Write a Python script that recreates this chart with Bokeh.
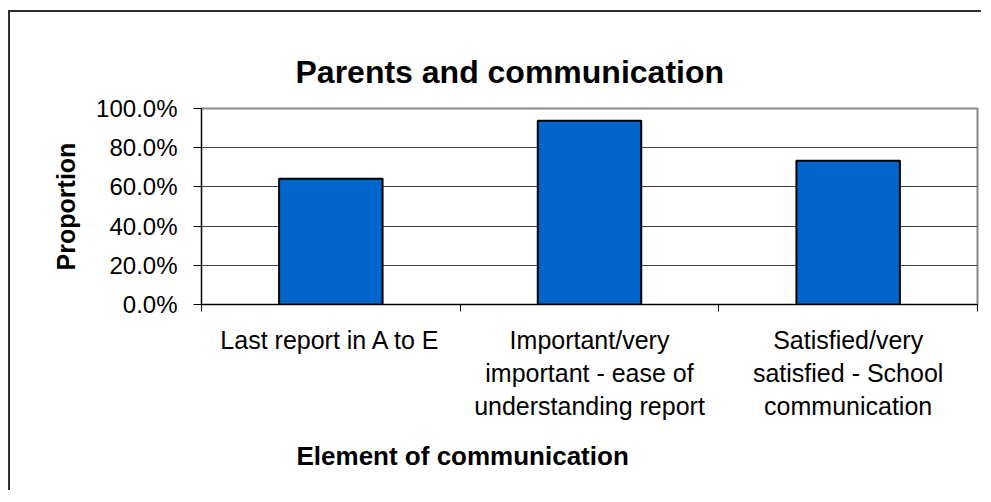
from bokeh.plotting import figure
from bokeh.models import (FactorRange, Range1d, LinearAxis, FixedTicker,
                          NumeralTickFormatter, Title)
from bokeh.embed import file_html
from bokeh.resources import INLINE

# ---- data ----
title_text = "Parents and communication"
categories = [
    "Last report in A to E",
    "Important/very important - ease of understanding report",
    "Satisfied/very satisfied - School communication",
]
tick_labels = [
    "Last report in A to E",
    "Important/very\nimportant - ease of\nunderstanding report",
    "Satisfied/very\nsatisfied - School\ncommunication",
]
proportions = [0.641, 0.937, 0.734]
y_ticks = [0.0, 0.2, 0.4, 0.6, 0.8, 1.0]
x_title = "Element of communication"
y_title = "Proportion"

FONT = "Liberation Sans"

p = figure(
    x_range=FactorRange(factors=categories),
    y_range=Range1d(0, 1),
    width=973, height=480,
    output_backend="svg", toolbar_location=None,
    x_axis_type=None,
    min_border_left=191, min_border_right=6,
    min_border_top=96, min_border_bottom=188,
    background_fill_color="white", border_fill_color="white",
)
p.styles = {"border-left": "2px solid #303030",
            "border-top": "2px solid #303030",
            "margin-left": "8px",
            "margin-top": "10px"}

p.outline_line_color = "#888888"
p.outline_line_width = 2

# title
p.title.text = title_text
p.title.align = "left"
p.title.offset = 94
p.title.text_font = FONT
p.title.text_font_size = "32px"
p.title.text_font_style = "bold"
p.title.text_color = "black"
p.title.standoff = 37

# bars
p.vbar(x=categories, top=proportions, width=0.4,
       fill_color="#0066CC", line_color="black", line_width=2)

# y axis
yax = p.yaxis[0]
yax.ticker = FixedTicker(ticks=y_ticks)
yax.formatter = NumeralTickFormatter(format="0.0%")
yax.major_tick_out = 8
yax.major_tick_in = 0
yax.minor_tick_out = 0
yax.minor_tick_in = 0
yax.axis_line_color = "black"
yax.major_tick_line_color = "black"
yax.major_label_standoff = 16
yax.major_label_text_font = FONT
yax.major_label_text_font_size = "24px"
yax.major_label_text_color = "black"
yax.axis_label = y_title
yax.axis_label_text_font = FONT
yax.axis_label_text_font_size = "25px"
yax.axis_label_text_font_style = "bold"
yax.axis_label_text_color = "black"
yax.axis_label_standoff = 13

p.ygrid.grid_line_color = "#404040"
p.ygrid.grid_line_width = 1

# x axis: labels at category centres, ticks at category boundaries
centres = [i + 0.5 for i in range(len(categories))]
bounds = [float(i) for i in range(len(categories) + 1)]
overrides = {}
for c, lab in zip(centres, tick_labels):
    overrides[c] = lab
    overrides[str(c)] = lab
xax = LinearAxis(
    ticker=FixedTicker(ticks=centres, minor_ticks=bounds),
    major_label_overrides=overrides,
    major_tick_out=0, major_tick_in=0,
    minor_tick_out=7, minor_tick_in=0,
    axis_line_color="black",
    minor_tick_line_color="black",
    major_label_standoff=14,
    major_label_text_font=FONT,
    major_label_text_font_size="25px",
    major_label_text_color="black",
    major_label_text_line_height=1.18,
)
p.add_layout(xax, "below")

# x-axis title
p.add_layout(Title(text=x_title, align="left", offset=95, text_font=FONT,
                   text_font_size="26px", text_font_style="bold",
                   text_color="black", standoff=32), "below")

open("out.html", "w").write(file_html(p, INLINE))
